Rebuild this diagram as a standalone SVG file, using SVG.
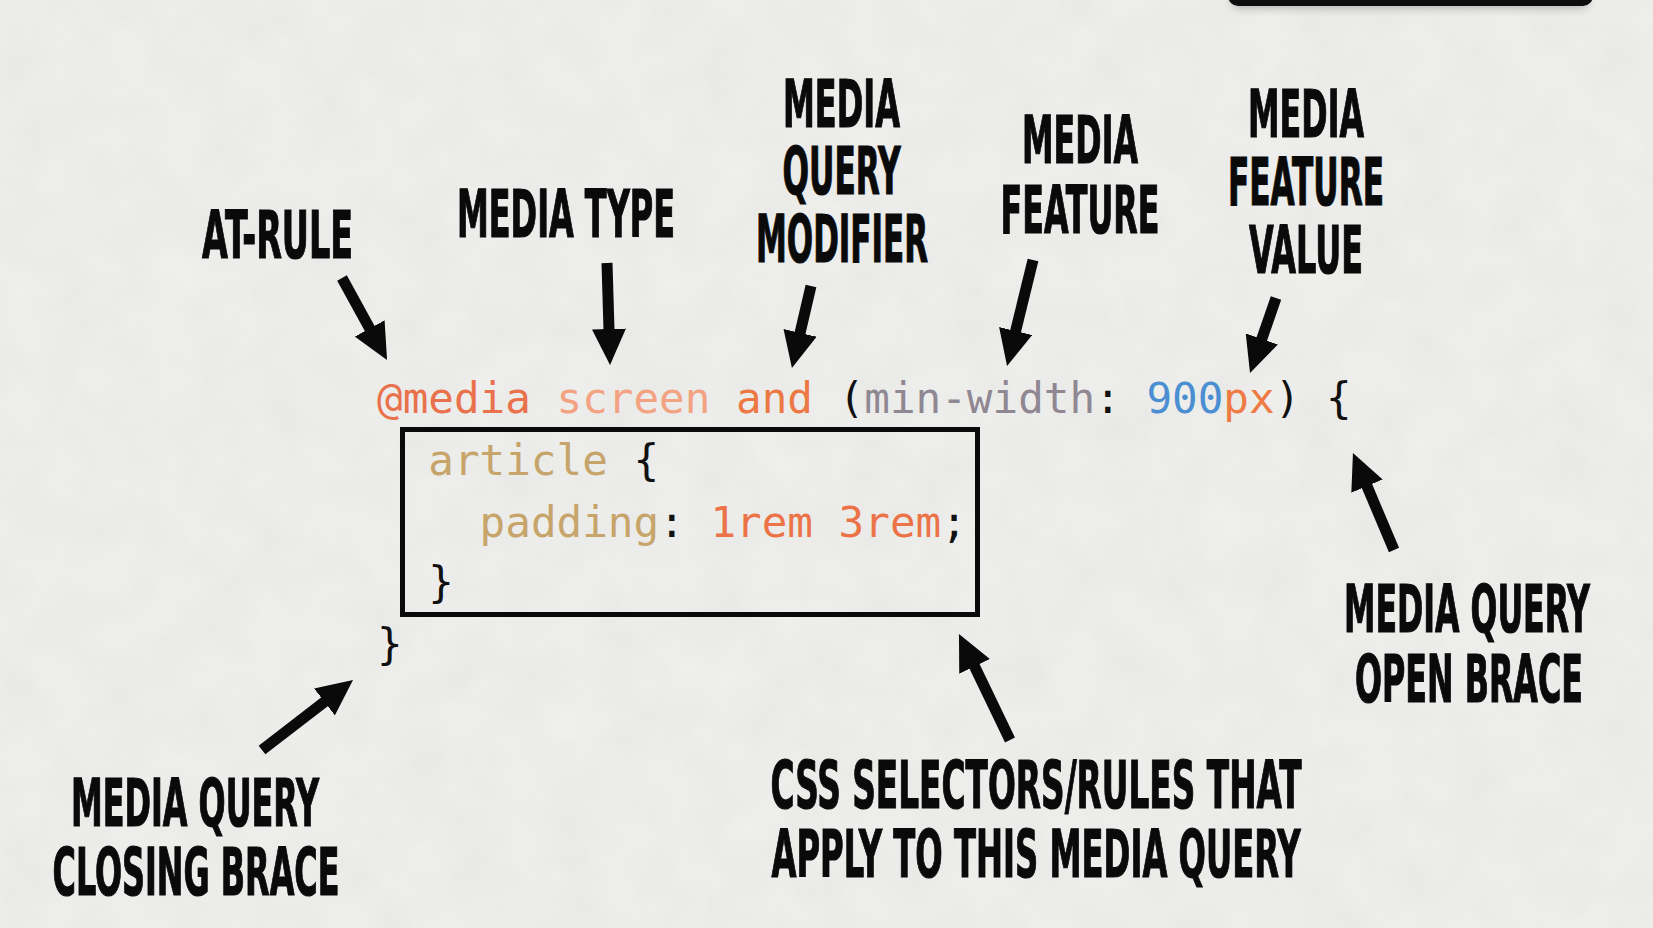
<svg xmlns="http://www.w3.org/2000/svg" width="1653" height="928" viewBox="0 0 1653 928">
<defs>
<filter id="paper" x="0" y="0" width="100%" height="100%">
<feTurbulence type="fractalNoise" baseFrequency="0.02" numOctaves="4" seed="3" result="n"/>
<feColorMatrix type="matrix" values="0 0 0 0 0  0 0 0 0 0  0 0 0 0 0  0 0 0 0.035 0" in="n"/>
</filter>
<filter id="blur" x="-10%" y="-50%" width="120%" height="300%"><feGaussianBlur stdDeviation="5"/></filter>
<marker id="head" markerUnits="userSpaceOnUse" markerWidth="36" markerHeight="34" refX="11" refY="17" orient="auto">
<path d="M0,0 L36,17 L0,34 Z" fill="#0a0a0a"/>
</marker>
<style>
.lbl{font-family:"Liberation Sans Narrow","DejaVu Sans Condensed","Liberation Sans",sans-serif;font-weight:bold;font-size:66px;fill:#0a0a0a;stroke:#0a0a0a;stroke-width:1.2px;text-anchor:middle}
.code{font-family:"DejaVu Sans Mono","Liberation Mono",monospace;font-size:42.6px;fill:#111}
.at{fill:#e9714b}.scr{fill:#f3a282}.and{fill:#ec7843}.feat{fill:#8f8792}.num{fill:#4b8fd2}.unit{fill:#ee7a44}
.sel{fill:#c6a46a}.val{fill:#ec7348}
.arr{stroke:#0a0a0a;stroke-width:11;fill:none;marker-end:url(#head)}
</style>
</defs>
<rect width="1653" height="928" fill="#f0f0ee"/>
<rect width="1653" height="928" filter="url(#paper)"/>
<g id="topbar">
<rect x="1232" y="-6" width="357" height="14" rx="8" fill="#000" opacity="0.25" filter="url(#blur)"/>
<rect x="1228" y="-20" width="365" height="26" rx="10" fill="#0e0e0e"/>
</g>
<g id="code">
<text class="code" x="377" y="413" xml:space="preserve"><tspan class="at">@media</tspan> <tspan class="scr">screen</tspan> <tspan class="and">and</tspan> (<tspan class="feat">min-width</tspan>: <tspan class="num">900</tspan><tspan class="unit">px</tspan>) {</text>
<rect x="402.5" y="429.5" width="575" height="185" fill="none" stroke="#0a0a0a" stroke-width="5"/>
<text class="code" x="428.3" y="475" xml:space="preserve"><tspan class="sel">article</tspan> {</text>
<text class="code" x="479.6" y="537" xml:space="preserve"><tspan class="sel">padding</tspan>: <tspan class="val">1rem 3rem</tspan>;</text>
<text class="code" x="428.3" y="597">}</text>
<text class="code" x="377" y="659">}</text>
</g>
<g id="at-rule"><text class="lbl" x="277.5" y="258" textLength="151" lengthAdjust="spacingAndGlyphs">AT-RULE</text></g>
<g id="media-type"><text class="lbl" x="566" y="237" textLength="218" lengthAdjust="spacingAndGlyphs">MEDIA TYPE</text></g>
<g id="media-query-modifier">
<text class="lbl" x="841.5" y="127" textLength="117" lengthAdjust="spacingAndGlyphs">MEDIA</text>
<text class="lbl" x="841.5" y="194" textLength="118" lengthAdjust="spacingAndGlyphs">QUERY</text>
<text class="lbl" x="842" y="262" textLength="172" lengthAdjust="spacingAndGlyphs">MODIFIER</text>
</g>
<g id="media-feature">
<text class="lbl" x="1080" y="163" textLength="116" lengthAdjust="spacingAndGlyphs">MEDIA</text>
<text class="lbl" x="1080" y="233" textLength="159" lengthAdjust="spacingAndGlyphs">FEATURE</text>
</g>
<g id="media-feature-value">
<text class="lbl" x="1306" y="137" textLength="116" lengthAdjust="spacingAndGlyphs">MEDIA</text>
<text class="lbl" x="1306" y="205" textLength="156" lengthAdjust="spacingAndGlyphs">FEATURE</text>
<text class="lbl" x="1306" y="273" textLength="114" lengthAdjust="spacingAndGlyphs">VALUE</text>
</g>
<g id="open-brace">
<text class="lbl" x="1467" y="632" textLength="246" lengthAdjust="spacingAndGlyphs">MEDIA QUERY</text>
<text class="lbl" x="1469" y="702" textLength="228" lengthAdjust="spacingAndGlyphs">OPEN BRACE</text>
</g>
<g id="css-rules">
<text class="lbl" x="1036" y="808" textLength="531" lengthAdjust="spacingAndGlyphs">CSS SELECTORS/RULES THAT</text>
<text class="lbl" x="1036" y="877" textLength="529" lengthAdjust="spacingAndGlyphs">APPLY TO THIS MEDIA QUERY</text>
</g>
<g id="closing-brace">
<text class="lbl" x="195" y="826" textLength="248" lengthAdjust="spacingAndGlyphs">MEDIA QUERY</text>
<text class="lbl" x="196" y="895" textLength="287" lengthAdjust="spacingAndGlyphs">CLOSING BRACE</text>
</g>
<g id="connectors">
<line class="arr" x1="342" y1="278" x2="375" y2="338.1"/>
<line class="arr" x1="607" y1="263" x2="609.3" y2="340"/>
<line class="arr" x1="811" y1="286" x2="797.6" y2="343.6"/>
<line class="arr" x1="1033" y1="260" x2="1013" y2="341.7"/>
<line class="arr" x1="1276" y1="298" x2="1258.2" y2="349.4"/>
<line class="arr" x1="1394" y1="550" x2="1362.7" y2="476"/>
<line class="arr" x1="1010" y1="740" x2="969.8" y2="656.5"/>
<line class="arr" x1="262" y1="750" x2="333.2" y2="695.2"/>
</g>
</svg>
